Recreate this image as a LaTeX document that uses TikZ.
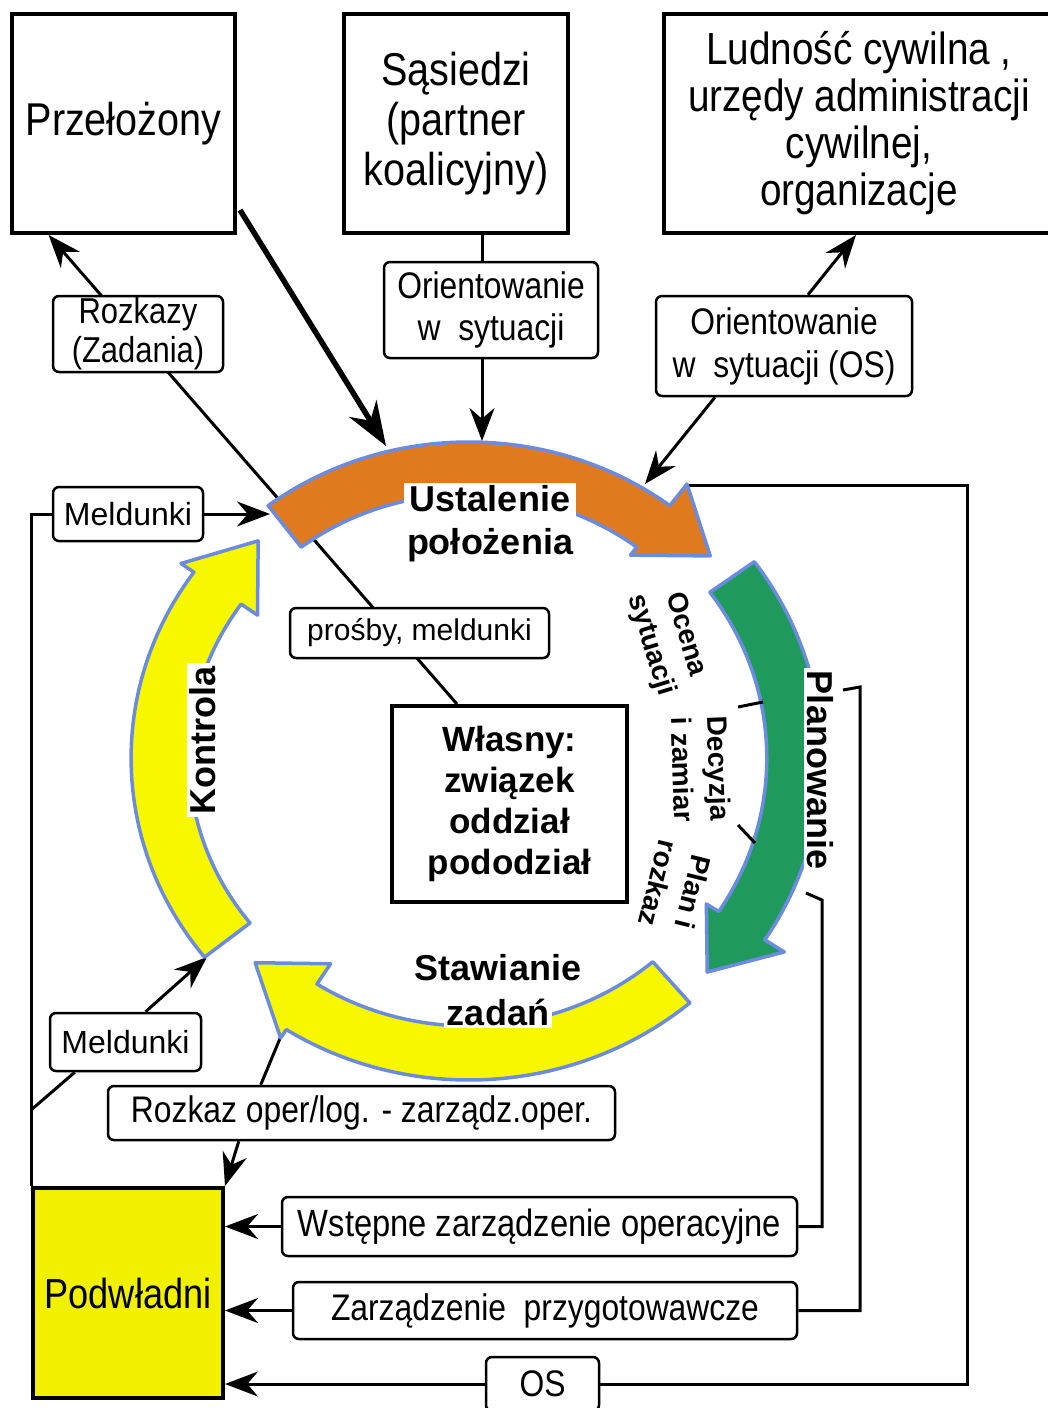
\documentclass[tikz,border=0pt]{standalone}
\usepackage{fontspec}
\setmainfont{Liberation Sans}
\newfontfamily\narrowfont[FakeStretch=0.86]{Liberation Sans}
\usetikzlibrary{arrows.meta,calc,backgrounds}
\definecolor{ringorange}{HTML}{E07A1F}
\definecolor{ringgreen}{HTML}{1F9A5C}
\definecolor{ringyellow}{HTML}{F7F700}
\definecolor{ringblue}{HTML}{6A8BE0}
\definecolor{subyellow}{HTML}{F0F000}
\def\ringcx{469}
\def\ringcy{758}
\def\ringsx{1.056}
% #1 fill, #2/#3 inner/outer radius, #4 tail angle, #5 head base angle,
% #6/#7 barb radii, #8 tip angle, #9 tip radius
\newcommand{\ringarrow}[9]{%
  \filldraw[ringedge,fill=#1]
    ({\ringcx+\ringsx*#3*cos(#4)},{\ringcy-#3*sin(#4)})
    arc[start angle={-(#4)},end angle={-(#5)},x radius={\ringsx*#3},y radius=#3]
    -- ({\ringcx+\ringsx*#7*cos(#5)},{\ringcy-#7*sin(#5)})
    -- ({\ringcx+\ringsx*#9*cos(#8)},{\ringcy-#9*sin(#8)})
    -- ({\ringcx+\ringsx*#6*cos(#5)},{\ringcy-#6*sin(#5)})
    -- ({\ringcx+\ringsx*#2*cos(#5)},{\ringcy-#2*sin(#5)})
    arc[start angle={-(#5)},end angle={-(#4)},x radius={\ringsx*#2},y radius=#2]
    -- cycle;}
\begin{document}
\begin{tikzpicture}[x=1pt,y=-1pt,>={Stealth[length=33pt,width=25pt]},
  bigbox/.style={draw,line width=4pt,align=center,inner sep=0pt},
  tag/.style={draw,rounded corners=6pt,line width=2.5pt,fill=white,align=center,inner sep=0pt},
  conn/.style={line width=3pt},
  thickarr/.style={line width=5.5pt,-{Stealth[length=44pt,width=32pt]}},
  ringedge/.style={draw=ringblue,line width=3.5pt,line join=round},
  cyc/.style={font=\bfseries\fontsize{36}{43}\selectfont,align=center,inner sep=3pt},
  phase/.style={font=\bfseries\fontsize{28}{36}\selectfont,align=center,inner sep=0pt}]
\useasboundingbox (0,0) rectangle (1048,1408);

% boxes
\node[bigbox,minimum width=223pt,minimum height=219pt,font=\narrowfont\fontsize{46}{50}\selectfont] (sup) at (123.5,123.5) {Przełożony};
\node[bigbox,minimum width=224pt,minimum height=219pt,font=\narrowfont\fontsize{46}{50}\selectfont] (nbr) at (456,123.5) {Sąsiedzi\\(partner\\koalicyjny)};
\node[bigbox,minimum width=390pt,minimum height=219pt,font=\narrowfont\fontsize{45}{47}\selectfont] (civ) at (859,123.5) {Ludność cywilna ,\\urzędy administracji\\cywilnej,\\organizacje};
\node[bigbox,minimum width=235pt,minimum height=196pt,font=\bfseries\fontsize{35}{41}\selectfont] (own) at (509.5,804) {Własny:\\związek\\oddział\\pododział};
\node[bigbox,fill=subyellow,minimum width=190pt,minimum height=210pt,font=\narrowfont\fontsize{42}{44}\selectfont] (sub) at (128,1293) {Podwładni};

% labels
\node[tag,minimum width=170pt,minimum height=76pt,font=\narrowfont\fontsize{36}{39}\selectfont] (ord) at (138,334) {Rozkazy\\(Zadania)};
\node[tag,minimum width=214pt,minimum height=96pt,font=\narrowfont\fontsize{37}{42}\selectfont] (ori1) at (491,310) {Orientowanie\\w\ \ sytuacji};
\node[tag,minimum width=256pt,minimum height=100pt,font=\narrowfont\fontsize{37}{43}\selectfont] (ori2) at (784,346) {Orientowanie\\w\ \ sytuacji (OS)};
\node[tag,minimum width=150pt,minimum height=54pt,font=\fontsize{32}{34}\selectfont] (rep1) at (128,514) {Meldunki};
\node[tag,minimum width=259pt,minimum height=50pt,font=\fontsize{30}{34}\selectfont] (req) at (419.5,633) {prośby, meldunki};
\node[tag,minimum width=151pt,minimum height=58pt,font=\fontsize{32}{34}\selectfont] (rep2) at (125.5,1042) {Meldunki};
\node[tag,minimum width=507pt,minimum height=54pt,font=\narrowfont\fontsize{37}{40}\selectfont] (opo) at (361.5,1113) {Rozkaz oper/log. - zarządz.oper.};
\node[tag,minimum width=515pt,minimum height=59pt,font=\narrowfont\fontsize{38}{40}\selectfont] (pre) at (539.5,1226.5) {Wstępne zarządzenie operacyjne};
\node[tag,minimum width=504pt,minimum height=57pt,font=\narrowfont\fontsize{37}{40}\selectfont] (prep) at (545,1310.5) {Zarządzenie\ \ przygotowawcze};
\node[tag,minimum width=113pt,minimum height=54pt,font=\narrowfont\fontsize{37}{40}\selectfont] (os) at (542.5,1384) {OS};

\coordinate (ustL) at (386,446);
\coordinate (ustTop) at (482,441);
\coordinate (ustR) at (645,484);
\coordinate (ustTail) at (270,514);
\coordinate (ustHead) at (686,485);
\coordinate (kontTail) at (207,957);
\coordinate (stawHead) at (281,1036);
\coordinate (loTick) at (822,900);
\coordinate (loEnd) at (806,893);
\coordinate (hiTick) at (860,687);
\coordinate (hiEnd) at (843,690);
\coordinate (osCorner) at (967,485);

% connectors
\begin{pgfonlayer}{background}
\draw[conn,->] ($(own.north west)!0.28!(own.north east)$) -- ($(sup.south west)!0.17!(sup.south east)$);
\end{pgfonlayer}
\draw[thickarr] ($(sup.south east)+(3,-25)$) -- (ustL);
\draw[conn] (nbr.south -| ustTop) -- (ori1.north -| ustTop);
\draw[conn,->] (ori1.south -| ustTop) -- (ustTop);
\draw[conn,->] ($(ori2.north)+(24,0)$) -- ($(civ.south west)+(194,0)$);
\draw[conn,->] ($(ori2.south)+(-69,0)$) -- (ustR);
\draw[conn] (sub.north west) |- (rep1.west);
\draw[conn,->] (rep1.east) -- (ustTail);
\draw[conn] ($(sub.north west)+(0,-76)$) -- ($(rep2.south west)+(26,0)$);
\draw[conn,->] ($(rep2.north)+(20,0)$) -- (kontTail);
\draw[conn] (stawHead) -- ($(opo.north west)+(154,0)$);
\draw[conn,->] ($(opo.south west)+(132,0)$) -- (sub.north east);
\draw[conn,->] (pre.west) -- (pre.west -| sub.east);
\draw[conn] (pre.east) -| (loTick) -- (loEnd);
\draw[conn,->] (prep.west) -- (prep.west -| sub.east);
\draw[conn] (prep.east) -| (hiTick) -- (hiEnd);
\draw[conn,->] (os.west) -- (os.west -| sub.east);
\draw[conn] (os.east) -| (osCorner) -- (ustHead);

% cycle
\ringarrow{ringorange}{264}{316}{127}{53}{254}{343}{41.5}{305}
\ringarrow{ringgreen}{282}{334}{36}{-33}{268}{356}{-43.5}{311}
\ringarrow{ringyellow}{268}{322}{-49.5}{-122.5}{244}{332}{-134.7}{288}
\ringarrow{ringyellow}{265}{320}{218.5}{144.5}{246}{335}{132.6}{295}

\node[cyc,fill=white] (ust) at (490,524) {Ustalenie\\położenia};
\node[cyc,fill=white,rotate=-90] (plan) at (820,770) {Planowanie};
\node[cyc,fill=white,rotate=90] (kont) at (203,740) {Kontrola};
\node[cyc] (stawA) at (498,968) {Stawianie};
\node[cyc,fill=white] (stawB) at (498,1012) {zadań};
\node[phase,rotate=-73] (eval) at (668,640) {Ocena\\sytuacji};
\node[phase,rotate=-88] (dec) at (701,769) {Decyzja\\i zamiar};
\node[phase,rotate=-104] (order) at (676,888) {Plan i\\rozkaz};
\draw[conn] (738,707) -- (763,702);
\draw[conn] (738,825) -- (755,843);
\end{tikzpicture}
\end{document}
